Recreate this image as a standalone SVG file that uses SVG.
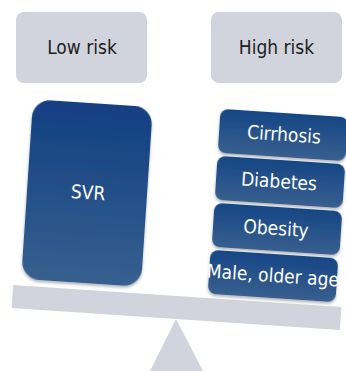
<svg xmlns="http://www.w3.org/2000/svg" width="346" height="371" viewBox="0 0 346 371">
<defs>
<linearGradient id="blue" x1="0" y1="0" x2="0" y2="1">
<stop offset="0" stop-color="#123f82"/>
<stop offset="1" stop-color="#36608f"/>
</linearGradient>
<linearGradient id="blue2" x1="0" y1="0" x2="0" y2="1">
<stop offset="0" stop-color="#164685"/>
<stop offset="1" stop-color="#385f8f"/>
</linearGradient>
<filter id="sh" x="-10%" y="-10%" width="120%" height="130%">
<feDropShadow dx="0" dy="2" stdDeviation="1.5" flood-color="#000" flood-opacity="0.3"/>
</filter>
</defs>
<style>
.gray{fill:#d1d4dc}
.lbl{font-family:"DejaVu Sans Condensed","DejaVu Sans",sans-serif;font-size:19px;text-anchor:middle}
.dark{fill:#1e1e1e}
.white{fill:#ffffff}
</style>
<g id="low-risk">
<rect class="gray" x="16" y="12" width="131" height="71" rx="8"/>
<text class="lbl dark" x="82" y="54">Low risk</text>
</g>
<g id="high-risk">
<rect class="gray" x="211" y="12" width="131" height="71" rx="8"/>
<text class="lbl dark" x="276.5" y="54">High risk</text>
</g>
<g id="fulcrum">
<polygon class="gray" points="176,319 150,371 203,371"/>
</g>
<g id="beam">
<rect class="gray" x="12" y="296" width="329" height="23" transform="rotate(3.85 176.5 307.5)"/>
</g>
<g id="svr">
<rect x="27" y="103" width="120" height="180" rx="18" fill="url(#blue)" filter="url(#sh)" transform="rotate(3.8 87 193)"/>
<text class="lbl white" x="88" y="199" transform="rotate(3.8 87 193)">SVR</text>
</g>
<g id="cirrhosis" transform="rotate(3.8 283 135)">
<rect x="219" y="113" width="128" height="44" rx="8" fill="url(#blue2)" filter="url(#sh)"/>
<text class="lbl white" x="284" y="141">Cirrhosis</text>
</g>
<g id="diabetes" transform="rotate(3.8 280 182)">
<rect x="216" y="160" width="128" height="44" rx="8" fill="url(#blue2)" filter="url(#sh)"/>
<text class="lbl white" x="279" y="188">Diabetes</text>
</g>
<g id="obesity" transform="rotate(3.8 277 229)">
<rect x="213" y="207" width="128" height="44" rx="8" fill="url(#blue2)" filter="url(#sh)"/>
<text class="lbl white" x="276" y="235">Obesity</text>
</g>
<g id="male-older-age" transform="rotate(3.8 273 276)">
<rect x="209" y="254" width="128" height="44" rx="8" fill="url(#blue2)" filter="url(#sh)"/>
<text class="lbl white" x="273" y="282">Male, older age</text>
</g>
<g id="connectors"/>
</svg>
